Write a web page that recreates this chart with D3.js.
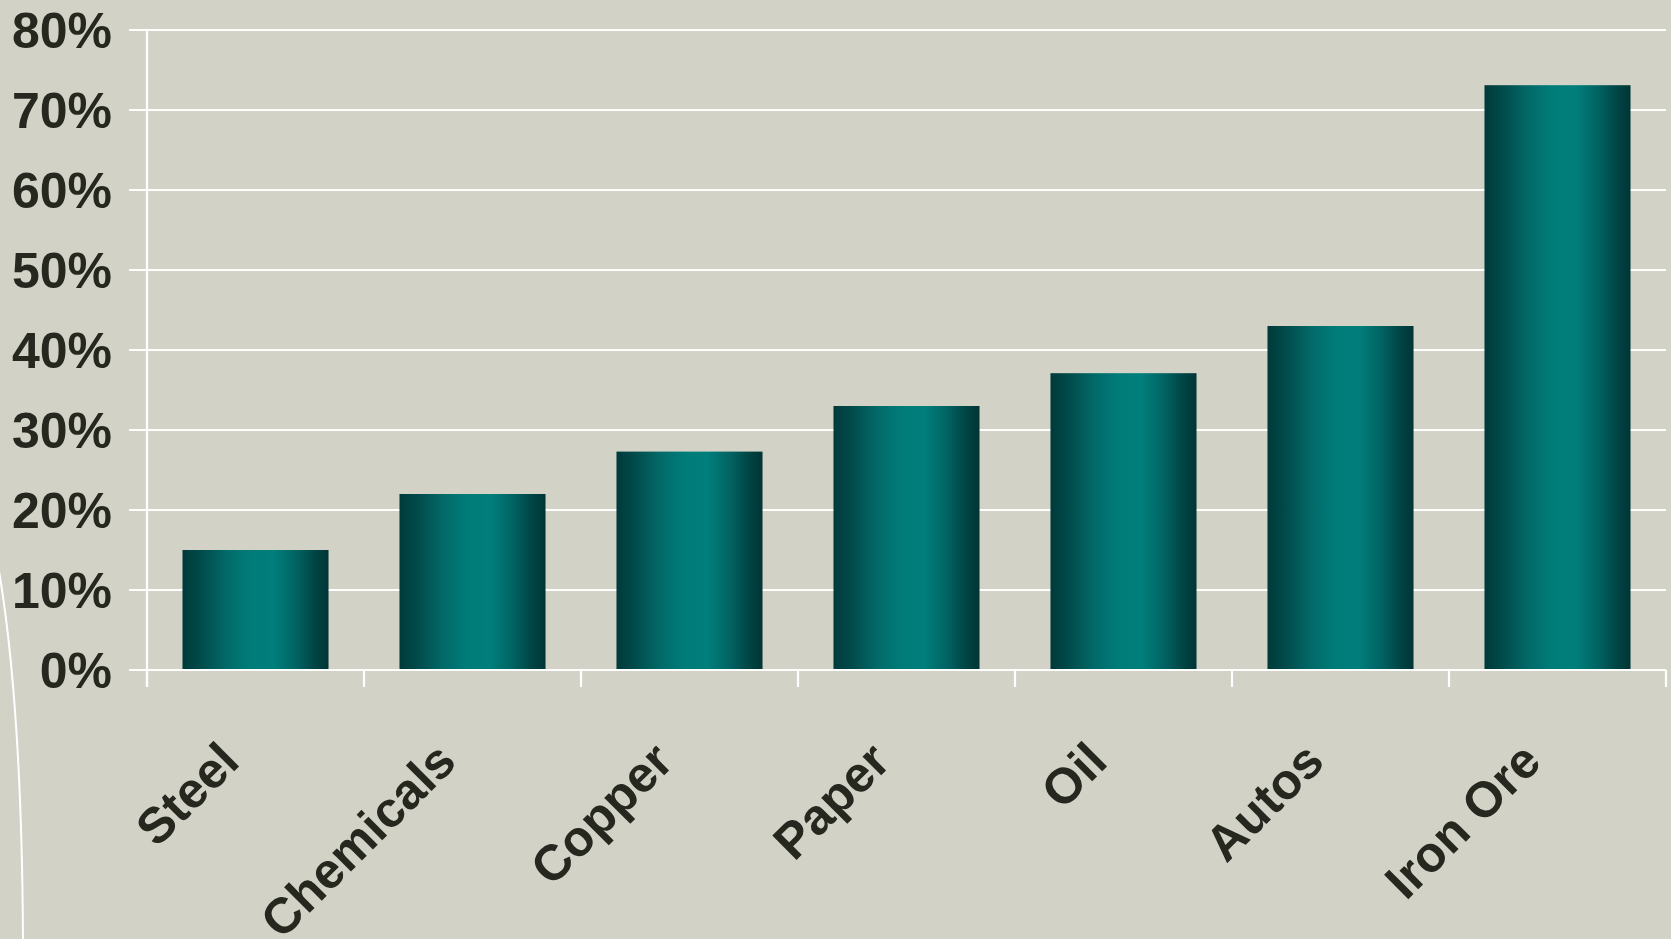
<!DOCTYPE html>
<html>
<head>
<meta charset="utf-8">
<script src="https://cdn.jsdelivr.net/npm/d3@7"></script>
<style>
  html, body { margin: 0; padding: 0; background: #d2d2c6; }
  svg { display: block; }
</style>
</head>
<body>
<svg id="chart" width="1671" height="939"></svg>
<script>
const categories = ["Steel", "Chemicals", "Copper", "Paper", "Oil", "Autos", "Iron Ore"];
const values = [15, 22, 27.3, 33, 37.1, 43, 73.1];
const yTicks = [0, 10, 20, 30, 40, 50, 60, 70, 80];

const W = 1671, H = 939;
const svg = d3.select("#chart");
svg.append("rect").attr("width", W).attr("height", H).attr("fill", "#d2d2c6");

const x0 = 147, x1 = 1666, yTop = 30, yBot = 670;
const x = d3.scaleBand().domain(categories).range([x0, x1])
  .paddingInner(0.327).paddingOuter(0.1635);
const y = d3.scaleLinear().domain([0, 80]).range([yBot, yTop]);

// gradient
const defs = svg.append("defs");
const g = defs.append("linearGradient").attr("id", "barGrad")
  .attr("x1", "0%").attr("x2", "100%").attr("y1", "0%").attr("y2", "0%");
[[0, "#003a3a"], [0.12, "#014a4a"], [0.3, "#026a68"], [0.45, "#007b78"],
 [0.62, "#017f7c"], [0.78, "#016362"], [0.9, "#004646"], [1, "#003535"]]
  .forEach(([o, c]) => g.append("stop").attr("offset", o).attr("stop-color", c));

// decorative curve
svg.append("path")
  .attr("d", "M -2,565 C 12,645 22,760 23,939")
  .attr("fill", "none").attr("stroke", "#ffffff").attr("stroke-width", 2);

// gridlines
svg.append("g").selectAll("line").data(yTicks).join("line")
  .attr("x1", 129).attr("x2", x1)
  .attr("y1", d => y(d)).attr("y2", d => y(d))
  .attr("stroke", "#ffffff").attr("stroke-width", 2.2);

// bars
svg.append("g").selectAll("rect").data(categories).join("rect")
  .attr("x", d => x(d))
  .attr("width", x.bandwidth())
  .attr("y", (d, i) => y(values[i]))
  .attr("height", (d, i) => y(0) - y(values[i]))
  .attr("fill", "url(#barGrad)");

// axes lines
svg.append("line").attr("x1", x0).attr("x2", x0).attr("y1", yTop).attr("y2", 687)
  .attr("stroke", "#ffffff").attr("stroke-width", 2.2);
svg.append("line").attr("x1", 129).attr("x2", x1).attr("y1", yBot).attr("y2", yBot)
  .attr("stroke", "#ffffff").attr("stroke-width", 2.2);
const step = x.step();
const bounds = d3.range(categories.length + 1).map(i => x0 + i * step);
svg.append("g").selectAll("line").data(bounds).join("line")
  .attr("x1", d => d).attr("x2", d => d).attr("y1", yBot).attr("y2", 687)
  .attr("stroke", "#ffffff").attr("stroke-width", 2.2);

// y labels
svg.append("g").selectAll("text").data(yTicks).join("text")
  .attr("x", 112).attr("y", d => y(d))
  .attr("dy", "0.35em")
  .attr("text-anchor", "end")
  .attr("font-family", "Liberation Sans, Arial, sans-serif")
  .attr("font-weight", "bold").attr("font-size", 50)
  .attr("fill", "#262820")
  .text(d => d + "%");

// x labels
svg.append("g").selectAll("text").data(categories).join("text")
  .attr("transform", d => `translate(${x(d) + x.bandwidth() / 2 - 14},764) rotate(-45)`)
  .attr("text-anchor", "end")
  .attr("font-family", "Liberation Sans, Arial, sans-serif")
  .attr("font-weight", "bold").attr("font-size", 50)
  .attr("fill", "#262820")
  .text(d => d);
</script>
</body>
</html>
